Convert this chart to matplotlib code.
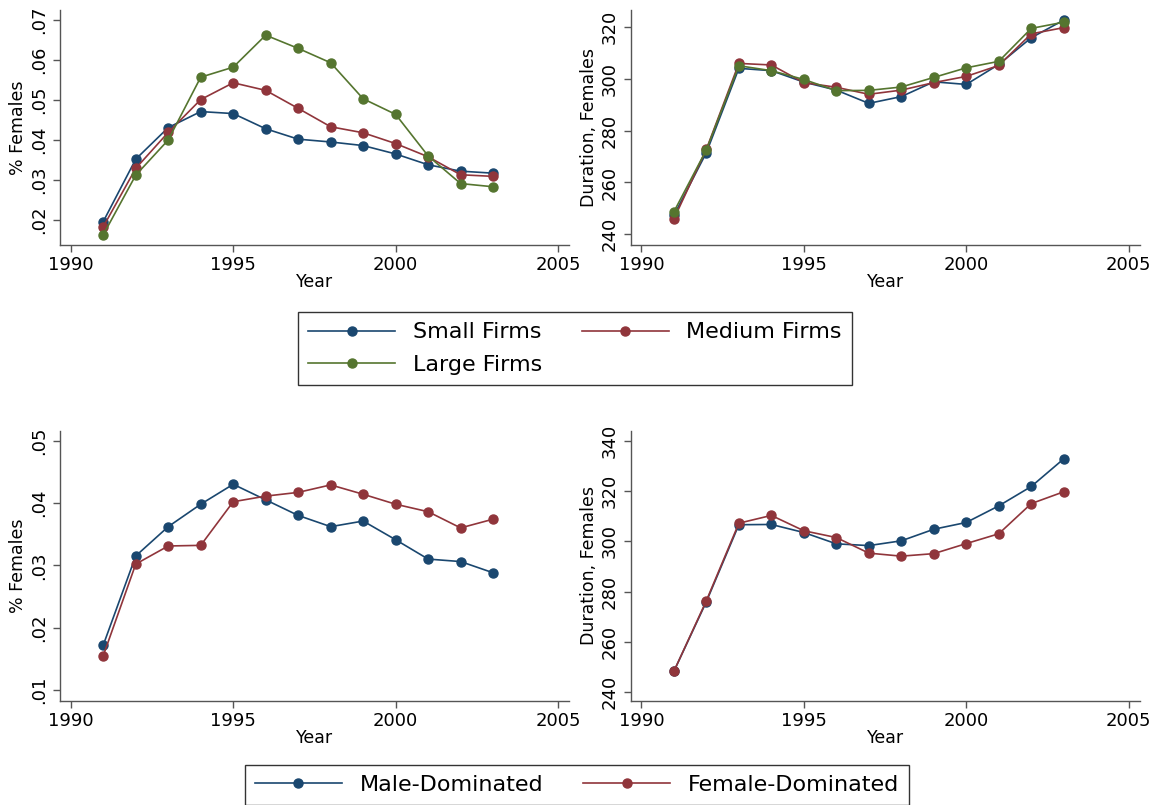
import numpy as np
import matplotlib.pyplot as plt
from matplotlib.ticker import FuncFormatter

years = list(range(1991, 2004))

# top row: by firm size
small_share = [0.0196, 0.0352, 0.0431, 0.0471, 0.0466, 0.0428, 0.0402, 0.0395, 0.0386, 0.0365, 0.0338, 0.0322, 0.0317]
medium_share = [0.0183, 0.0329, 0.0419, 0.0501, 0.0543, 0.0524, 0.0479, 0.0433, 0.0418, 0.0391, 0.0358, 0.0313, 0.0309]
large_share = [0.0163, 0.0312, 0.0400, 0.0557, 0.0582, 0.0662, 0.0629, 0.0593, 0.0503, 0.0464, 0.0360, 0.0291, 0.0283]

small_dur = [247.3, 271.5, 304.0, 303.1, 298.7, 295.6, 290.5, 293.1, 298.8, 297.8, 305.5, 315.8, 322.6]
medium_dur = [245.9, 272.8, 305.9, 305.3, 298.5, 296.7, 294.0, 295.6, 298.5, 300.9, 305.1, 317.3, 319.7]
large_dur = [248.7, 272.6, 305.0, 303.1, 299.7, 295.4, 295.5, 296.8, 300.5, 304.2, 306.7, 319.4, 321.8]

# bottom row: by sector composition
male_share = [0.0172, 0.0315, 0.0362, 0.0398, 0.0430, 0.0405, 0.0380, 0.0362, 0.0371, 0.0341, 0.0310, 0.0306, 0.0288]
female_share = [0.0155, 0.0302, 0.0331, 0.0332, 0.0402, 0.0411, 0.0417, 0.0429, 0.0414, 0.0398, 0.0386, 0.0360, 0.0374]

male_dur = [248.3, 276.0, 306.6, 306.7, 303.5, 299.0, 298.3, 300.2, 304.8, 307.5, 314.1, 321.8, 332.8]
female_dur = [248.3, 276.4, 307.2, 310.3, 304.2, 301.5, 295.3, 294.1, 295.1, 299.1, 303.0, 315.0, 319.7]

navy = '#1a476f'
maroon = '#90353b'
green = '#55752f'
spine_col = '#555555'

fig = plt.figure(figsize=(11.57, 8.05), dpi=100)

w = 0.4400
ax1 = fig.add_axes([0.0519, 0.6957, w, 0.2919])
ax2 = fig.add_axes([0.5451, 0.6957, w, 0.2919])
ax3 = fig.add_axes([0.0519, 0.1292, w, 0.3358])
ax4 = fig.add_axes([0.5451, 0.1292, w, 0.3358])

kw = dict(marker='o', markersize=6.5, linewidth=1.2)

l1, = ax1.plot(years, small_share, color=navy, label='Small Firms', **kw)
l2, = ax1.plot(years, medium_share, color=maroon, label='Medium Firms', **kw)
l3, = ax1.plot(years, large_share, color=green, label='Large Firms', **kw)

ax2.plot(years, small_dur, color=navy, **kw)
ax2.plot(years, medium_dur, color=maroon, **kw)
ax2.plot(years, large_dur, color=green, **kw)

m1, = ax3.plot(years, male_share, color=navy, label='Male-Dominated', **kw)
m2, = ax3.plot(years, female_share, color=maroon, label='Female-Dominated', **kw)

ax4.plot(years, male_dur, color=navy, **kw)
ax4.plot(years, female_dur, color=maroon, **kw)

share_fmt = FuncFormatter(lambda v, p: ('%.2f' % v).lstrip('0'))

ax1.set_ylim(0.01375, 0.0725)
ax1.set_yticks([0.02, 0.03, 0.04, 0.05, 0.06, 0.07])
ax2.set_ylim(235.9, 326.5)
ax2.set_yticks([240, 260, 280, 300, 320])
ax3.set_ylim(0.00823, 0.0516)
ax3.set_yticks([0.01, 0.02, 0.03, 0.04, 0.05])
ax4.set_ylim(236.5, 344.0)
ax4.set_yticks([240, 260, 280, 300, 320, 340])

for ax in (ax1, ax3):
    ax.yaxis.set_major_formatter(share_fmt)
    ax.set_ylabel('% Females', fontsize=12.5, labelpad=2)
for ax in (ax2, ax4):
    ax.set_ylabel('Duration, Females', fontsize=12.5, labelpad=2)

for ax in (ax1, ax2, ax3, ax4):
    ax.set_xlim(1989.67, 2005.34)
    ax.set_xticks([1990, 1995, 2000, 2005])
    ax.set_xlabel('Year', fontsize=12.5, labelpad=-1)
    for s in ('top', 'right'):
        ax.spines[s].set_visible(False)
    for s in ('left', 'bottom'):
        ax.spines[s].set_color(spine_col)
        ax.spines[s].set_linewidth(1.0)
    ax.tick_params(axis='both', colors=spine_col, labelcolor='black', labelsize=13, length=5, width=1.0)
    ax.tick_params(axis='x', pad=3)
    for t in ax.get_yticklabels():
        t.set_rotation(90)
        t.set_va('center')

leg_kw = dict(frameon=True, fancybox=False, edgecolor='black', fontsize=16,
              handlelength=3.9, handletextpad=0.8, columnspacing=1.8,
              borderpad=0.45, borderaxespad=0)

# matplotlib fills legend columns first, so order handles to get rows Small/Medium, Large
lg1 = fig.legend(handles=[l1, l3, l2], ncol=2, loc='center',
                 bbox_to_anchor=(575 / 1157, 1 - 348.5 / 805),
                 labelspacing=0.55, **leg_kw)
lg1.get_frame().set_linewidth(1.0)

lg2 = fig.legend(handles=[m1, m2], ncol=2, loc='upper center',
                 bbox_to_anchor=(577 / 1157, 1 - 765 / 805),
                 labelspacing=0.5, **leg_kw)
lg2.get_frame().set_linewidth(1.0)

fig.savefig('out.png', dpi=100)
